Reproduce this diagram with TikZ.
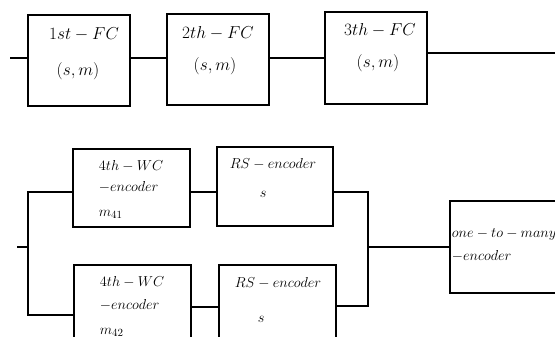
\documentclass[tikz,border=0pt]{standalone}
\begin{document}
\begin{tikzpicture}[x=1pt,y=-1pt,line width=1.8pt,
  blk/.style={draw,line width=1.8pt,anchor=north west,inner sep=0pt,outer sep=0pt},
  lbl/.style={anchor=base west,inner sep=0pt,font=\fontsize{15}{17}\selectfont},
  olbl/.style={anchor=base west,inner sep=0pt,font=\fontsize{14.5}{17}\selectfont},
  clbl/.style={anchor=base,inner sep=0pt,font=\fontsize{16.5}{19}\selectfont}]
\useasboundingbox (0,0) rectangle (555,337);
\clip (0,0) rectangle (555,337);
% top row
\node[blk,minimum width=102pt,minimum height=91pt] (FC1) at (28,15) {};
\node[blk,minimum width=102pt,minimum height=91pt] (FC2) at (167,14) {};
\node[blk,minimum width=102pt,minimum height=92pt] (FC3) at (325,12) {};
\node[clbl] (t11) at (84,40) {$1st-FC$};
\node[clbl] (t12) at (78,76) {$(s,m)$};
\node[clbl] (t21) at (218,39) {$2th-FC$};
\node[clbl] (t22) at (215,71) {$(s,m)$};
\node[clbl] (t31) at (380,36) {$3th-FC$};
\node[clbl] (t32) at (378,68) {$(s,m)$};
\coordinate (in1) at (10,58);
\coordinate (out1) at (555,53);
\draw (in1) -- ([yshift=2.5pt]FC1.west);
\draw ([yshift=2.5pt]FC1.east) -- ([yshift=1.5pt]FC2.west);
\draw ([yshift=1.5pt]FC2.east) -- (FC3.west);
\draw ([yshift=5pt]FC3.east) -- (out1);
% bottom part
\node[blk,minimum width=117pt,minimum height=78pt] (WC1) at (73,149) {};
\node[blk,minimum width=117pt,minimum height=78pt] (WC2) at (74,265) {};
\node[blk,minimum width=116pt,minimum height=79pt] (RS1) at (217,147) {};
\node[blk,minimum width=117pt,minimum height=79pt] (RS2) at (219,265) {};
\node[blk,minimum width=120pt,minimum height=92pt] (OTM) at (450,201) {};
\node[lbl] (w11) at (98,171) {$4th-WC$};
\node[lbl] (w12) at (98,191) {$-encoder$};
\node[lbl] (w13) at (98,216) {$m_{41}$};
\node[lbl] (w21) at (99,286) {$4th-WC$};
\node[lbl] (w22) at (99,309) {$-encoder$};
\node[lbl] (w23) at (99,334) {$m_{42}$};
\node[lbl] (r11) at (229,168) {$RS-encoder$};
\node[lbl] (r12) at (259,197) {$s$};
\node[lbl] (r21) at (234,287) {$RS-encoder$};
\node[lbl] (r22) at (257,322) {$s$};
\node[olbl] (o1) at (451,237) {$one-to-many$};
\node[olbl] (o2) at (451,260) {$-encoder$};
\coordinate (in2) at (17,247);
\coordinate (bus) at (28,247);
\coordinate (join) at (368,247);
\draw (in2) -- (bus);
\draw ([yshift=-4pt]WC1.west) -| (bus) |- ([yshift=-11pt]WC2.west);
\draw ([yshift=-4pt]WC1.east) -- ([yshift=-5.5pt]RS1.west);
\draw ([yshift=-3pt]WC2.east) -- ([yshift=-2.5pt]RS2.west);
\draw ([yshift=-5.5pt]RS1.east) -| (join) |- ([yshift=-1.5pt]RS2.east);
\draw (join) -- (OTM.west);
\end{tikzpicture}
\end{document}
